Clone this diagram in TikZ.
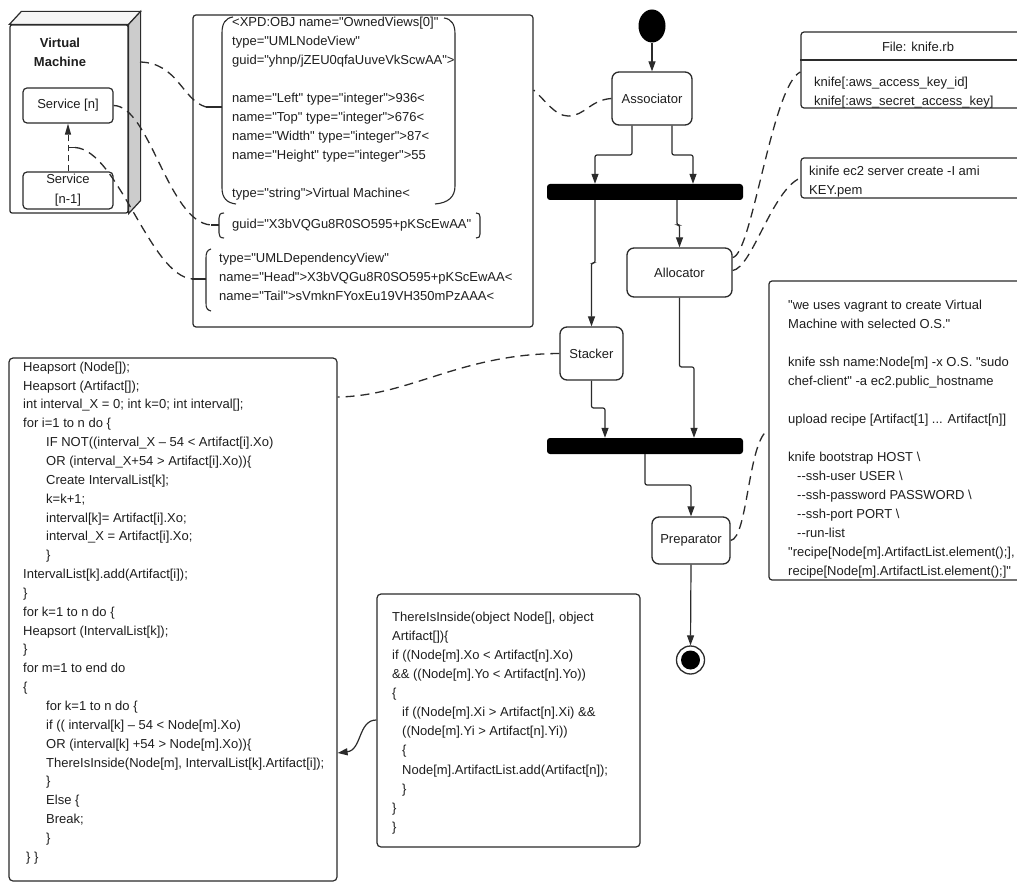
\documentclass[tikz,border=0pt]{standalone}
\usepackage{fontspec}
\newfontfamily\lsans{Liberation Sans}
\usetikzlibrary{arrows.meta,shapes.geometric,calc}
\definecolor{linec}{HTML}{2B2B2B}
\definecolor{textc}{HTML}{1E1E1E}
\newcommand\ind{\hspace*{23pt}}
\newcommand\sind{\hspace*{10pt}}
\newcommand\tind{\hspace*{9pt}}
\begin{document}
\begin{tikzpicture}[x=1pt,y=-1pt,
  font=\lsans\fontsize{13}{19}\selectfont, text=textc,
  box/.style={draw=linec, line width=1.2pt, rounded corners=3pt, inner sep=0pt, fill=white},
  actbox/.style={draw=linec, line width=1.3pt, rounded corners=7pt, inner sep=0pt, fill=white},
  barnode/.style={fill=black, rounded corners=3pt, minimum width=196pt, minimum height=16pt, inner sep=0pt},
  flow/.style={draw=linec, line width=1.2pt, rounded corners=2pt, -{Triangle[length=10pt,width=7pt]}},
  dashlink/.style={draw=linec, line width=1.3pt, dash pattern=on 9pt off 6pt},
  brk/.style={draw=linec, line width=1.1pt},
  txt/.style={anchor=north west, align=left, inner sep=0pt},
  txtone/.style={anchor=base west, inner sep=0pt},
]
\useasboundingbox (0,0) rectangle (1017,882);
\clip (0,0) rectangle (1017,882);
\fill[white] (0,0) rectangle (1017,882);

% ---------------- Virtual machine ----------------
\node[box, rounded corners=2pt, minimum width=118pt, minimum height=188pt] (vm) at (69,119) {};
\filldraw[draw=linec, line width=1.2pt, fill=gray!8] (vm.north west) -- ++(12,-13) -- ($(vm.north east)+(12,-13)$) -- (vm.north east) -- cycle;
\filldraw[draw=linec, line width=1.2pt, fill=gray!40] (vm.north east) -- ++(12,-13) -- ($(vm.south east)+(12,-13)$) -- (vm.south east) -- cycle;
\node[font=\lsans\bfseries\fontsize{13}{19}\selectfont, align=center, inner sep=0pt] (vmlabel) at (60,52) {Virtual\\Machine};
\node[box, rounded corners=4pt, minimum width=90pt, minimum height=35pt] (svcn) at (68,105.5) {Service [n]};
\node[box, rounded corners=4pt, minimum width=90pt, minimum height=37pt, align=center, font=\lsans\fontsize{13}{20}\selectfont] (svcn1) at (68,190.5) {Service\\{}[n-1]};
\draw[draw=linec, line width=1pt, dash pattern=on 6pt off 4pt, -{Triangle[length=11pt,width=6pt]}] (svcn1.north) -- (svcn.south);
\coordinate (vmside) at (140,62);
\coordinate (depmid) at ($(svcn1.north)!0.5!(svcn.south)$);

% ---------------- XPD box ----------------
\node[box, minimum width=340pt, minimum height=312pt] (xpd) at (363,171) {};
\draw[brk] (233,17) .. controls (225,18) and (222,24) .. (222,33) -- (222,188) .. controls (222,198) and (227,203) .. (236,204);
\draw[brk] (222,107) -- (206,107) coordinate (b1);
\draw[brk] (444,18) .. controls (452,19) and (455,25) .. (455,34) -- (455,186) .. controls (455,197) and (448,203) .. (435,204);
\draw[brk] (224,213) .. controls (220,213) and (219,215) .. (219,218) -- (219,233) .. controls (219,236) and (220,238) .. (224,238);
\draw[brk] (219,225) -- (211,225) coordinate (b2);
\draw[brk] (476,213) .. controls (479,213) and (480,214) .. (480,217) -- (480,234) .. controls (480,237) and (479,238) .. (476,238);
\draw[brk] (211,249) .. controls (207,250) and (206,253) .. (206,258) -- (206,303) .. controls (206,308) and (207,310) .. (211,311);
\draw[brk] (206,279) -- (xpd.west |- 0,279) coordinate (b3);

\node[txt] (xpdA) at (232,16.8) {<XPD:OBJ name="OwnedViews[0]"\\
type="UMLNodeView"\\
guid="yhnp/jZEU0qfaUuveVkScwAA">\\[19pt]
name="Left" type="integer">936<\\
name="Top" type="integer">676<\\
name="Width" type="integer">87<\\
name="Height" type="integer">55\\[19pt]
type="string">Virtual Machine<};
\node[txtone] (xpdB) at (232,229) {guid="X3bVQGu8R0SO595+pKScEwAA"};
\node[txt] (xpdC) at (219,252.6) {type="UMLDependencyView"\\
name="Head">X3bVQGu8R0SO595+pKScEwAA<\\
name="Tail">sVmknFYoxEu19VH350mPzAAA<};

% VM connectors
\draw[dashlink] (vmside) .. controls (178,63) and (182,100) .. (b1);
\draw[dashlink] (svcn.east) .. controls (150,106) and (168,222) .. (b2);
\draw[draw=linec, line width=1pt] (depmid) -- ++(7,0) coordinate (depend);
\draw[dashlink] (depend) .. controls (118,150) and (150,276) .. (b3);

% ---------------- Activity diagram ----------------
\node[ellipse, fill=black, minimum width=27pt, minimum height=33pt, inner sep=0pt] (start) at (652,26) {};
\node[actbox, minimum width=80pt, minimum height=53pt] (assoc) at (652,98.5) {Associator};
\node[barnode] (bar1) at (645,192) {};
\node[actbox, minimum width=105pt, minimum height=49pt] (alloc) at (679.5,272.5) {Allocator};
\node[actbox, minimum width=63pt, minimum height=53pt] (stacker) at (591.5,353.5) {Stacker};
\node[barnode] (bar2) at (645,446) {};
\node[actbox, minimum width=78pt, minimum height=47pt] (prep) at (691,540.5) {Preparator};
\node[circle, draw=linec, line width=1.3pt, minimum size=28pt, inner sep=0pt, fill=white] (end) at (690.5,660) {};
\fill[black] (end.center) circle (9.5pt);

\draw[flow] (start.south) -- (assoc.north);
\draw[flow] ([xshift=-20pt]assoc.south) -- (632,155) -| (595,0 |- bar1.north);
\draw[flow] ([xshift=20pt]assoc.south) -- (672,155) -| (693,0 |- bar1.north);
\draw[flow] (595,0 |- bar1.south) -- (595,263) -| (stacker.north);
\draw[flow] (677,0 |- bar1.south) -- (677,225) -| (alloc.north);
\draw[flow] (stacker.south) -- (591.5,408) -| (605,0 |- bar2.north);
\draw[flow] (alloc.south) -- (679.5,367) -| (694,0 |- bar2.north);
\draw[flow] (645,0 |- bar2.south) -- (645,485) -| (prep.north);
\draw[flow] (prep.south) -- (end.north);

\draw[dashlink] (assoc.west) .. controls (590,100) and (585,116) .. (568,116) .. controls (555,116) and (545,100) .. (xpd.east |- 0,90);

% ---------------- Right notes ----------------
\node[box, minimum width=234pt, minimum height=76pt] (knifebox) at (918,70) {};
\draw[draw=linec, line width=1.2pt] (knifebox.west |- 0,60) -- (knifebox.east |- 0,60);
\node[inner sep=0pt] (knifetitle) at (918,47) {File: knife.rb};
\node[txt] (knifetxt) at (814,76.6) {knife[:aws\_access\_key\_id]\\knife[:aws\_secret\_access\_key]};

\node[box, minimum width=234pt, minimum height=40pt] (kinifebox) at (918,178) {};
\node[txt] (kinifetxt) at (809,165.6) {kinife ec2 server create -I ami\\KEY.pem};

\node[box, minimum width=266pt, minimum height=299pt] (rightbox) at (902,430.5) {};
\node[txt] (righttxt) at (788,299.6) {"we uses vagrant to create Virtual\\
Machine with selected O.S."\\[19pt]
knife ssh name:Node[m] -x O.S. "sudo\\
chef-client" -a ec2.public\_hostname\\[19pt]
upload recipe [Artifact[1] ... Artifact[n]]\\[19pt]
knife bootstrap HOST \textbackslash\\
\tind --ssh-user USER \textbackslash\\
\tind --ssh-password PASSWORD \textbackslash\\
\tind --ssh-port PORT \textbackslash\\
\tind --run-list\\
"recipe[Node[m].ArtifactList.element();],\\
recipe[Node[m].ArtifactList.element();]"};

\draw[dashlink] ([yshift=15pt]alloc.east) .. controls (752,255) and (772,85) .. (knifebox.west |- 0,72);
\draw[dashlink] ([yshift=2pt]alloc.east) .. controls (752,268) and (772,190) .. (kinifebox.west);
\draw[dashlink] (prep.east) .. controls (748,538) and (748,440) .. (rightbox.west |- 0,430);

% ---------------- Code boxes ----------------
\node[box, rounded corners=4pt, minimum width=328pt, minimum height=523pt] (code) at (173,619.5) {};
\node[txt, font=\lsans\fontsize{13}{18.85}\selectfont] (codetxt) at (23,361.6) {Heapsort (Node[]);\\
Heapsort (Artifact[]);\\
int interval\_X = 0; int k=0; int interval[];\\
for i=1 to n do \{\\
\ind IF NOT((interval\_X – 54 < Artifact[i].Xo)\\
\ind OR (interval\_X+54 > Artifact[i].Xo))\{\\
\ind Create IntervalList[k];\\
\ind k=k+1;\\
\ind interval[k]= Artifact[i].Xo;\\
\ind interval\_X = Artifact[i].Xo;\\
\ind \}\\
IntervalList[k].add(Artifact[i]);\\
\}\\
for k=1 to n do \{\\
Heapsort (IntervalList[k]);\\
\}\\
for m=1 to end do\\
\{\\
\ind for k=1 to n do \{\\
\ind if (( interval[k] – 54 < Node[m].Xo)\\
\ind OR (interval[k] +54 > Node[m].Xo))\{\\
\ind ThereIsInside(Node[m], IntervalList[k].Artifact[i]);\\
\ind \}\\
\ind Else \{\\
\ind Break;\\
\ind \}\\
\hspace*{3pt}\} \}};

\node[box, rounded corners=4pt, minimum width=263pt, minimum height=253pt] (tii) at (508.5,720.5) {};
\node[txt, font=\lsans\fontsize{13}{19.1}\selectfont] (tiitxt) at (392,611.6) {ThereIsInside(object Node[], object\\
Artifact[])\{\\
if ((Node[m].Xo < Artifact[n].Xo)\\
\&\& ((Node[m].Yo < Artifact[n].Yo))\\
\{\\
\sind if ((Node[m].Xi > Artifact[n].Xi) \&\&\\
\sind ((Node[m].Yi > Artifact[n].Yi))\\
\sind \{\\
\sind Node[m].ArtifactList.add(Artifact[n]);\\
\sind \}\\
\}\\
\}};

\draw[draw=linec, line width=1.2pt, -{Triangle[length=10pt,width=7pt]}] (tii.west |- 0,720) .. controls (358,720) and (362,750) .. (code.east |- 0,753);
\draw[dashlink] (stacker.west) .. controls (460,354) and (410,396) .. (code.east |- 0,397);
\end{tikzpicture}
\end{document}
